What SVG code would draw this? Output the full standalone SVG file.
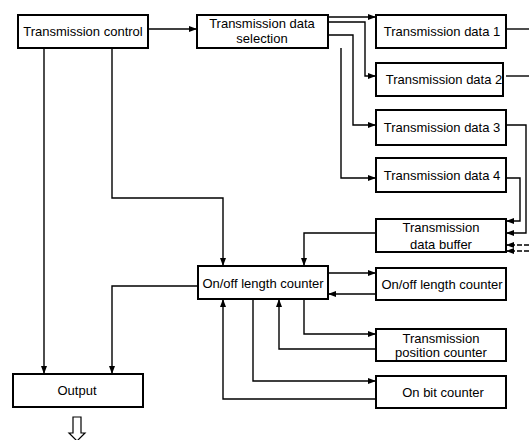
<svg xmlns="http://www.w3.org/2000/svg" width="529" height="440" viewBox="0 0 529 440">
<defs>
<marker id="ah" markerUnits="userSpaceOnUse" markerWidth="9" markerHeight="7" refX="8" refY="3.5" orient="auto">
<path d="M0,0.5 L8,3.5 L0,6.5 z" fill="#000"/>
</marker>
<style>
.box{fill:#fff;stroke:#000;stroke-width:2}
.t{font-family:"Liberation Sans",Arial,sans-serif;font-size:13px;fill:#000;text-anchor:middle}
.c{fill:none;stroke:#000;stroke-width:1.4}
.a{marker-end:url(#ah)}
.d{stroke-dasharray:5 2}
</style>
</defs>
<rect width="529" height="440" fill="#fff"/>
<g id="connectors">
<path class="c a" d="M148,29 H197"/>
<path class="c a" d="M328,17 H376"/>
<path class="c a" d="M328,22 H365 V76 H376"/>
<path class="c a" d="M328,35 H353 V125 H376"/>
<path class="c a" d="M341,48 V178 H376"/>
<path class="c" d="M506,29 H529"/>
<path class="c" d="M506,76 H529"/>
<path class="c a" d="M506,125 H526 V233 H506"/>
<path class="c a" d="M506,178 H520 V221 H506"/>
<path class="c a d" d="M529,245 H506"/>
<path class="c a d" d="M529,251 H506"/>
<path class="c a" d="M376,233 H304 V266"/>
<path class="c a" d="M112,48 V198 H223 V266"/>
<path class="c a" d="M44,48 V374"/>
<path class="c a" d="M198,286 H112 V374"/>
<path class="c a" d="M328,273 H376"/>
<path class="c a" d="M376,294 H328"/>
<path class="c a" d="M304,299 V334 H376"/>
<path class="c a" d="M376,349 H279 V299"/>
<path class="c a" d="M253,299 V381 H376"/>
<path class="c a" d="M376,399 H223 V299"/>
<path d="M73,417 H81 V433 H85 L77,441 L69,433 H73 Z" fill="#fff" stroke="#000" stroke-width="1.2"/>
</g>
<g id="transmission-control">
<rect class="box" x="18" y="15" width="130" height="33"/>
<text class="t" x="83" y="36">Transmission control</text>
</g>
<g id="transmission-data-selection">
<rect class="box" x="197" y="15" width="131" height="33"/>
<text class="t" x="262" y="28">Transmission data</text>
<text class="t" x="262" y="43">selection</text>
</g>
<g id="transmission-data-1">
<rect class="box" x="376" y="15" width="130" height="33"/>
<text class="t" x="442" y="36">Transmission data 1</text>
</g>
<g id="transmission-data-2">
<rect class="box" x="376" y="63" width="127" height="33"/>
<text class="t" x="444" y="84">Transmission data 2</text>
</g>
<g id="transmission-data-3">
<rect class="box" x="376" y="110" width="130" height="35"/>
<text class="t" x="442" y="132">Transmission data 3</text>
</g>
<g id="transmission-data-4">
<rect class="box" x="376" y="158" width="130" height="34"/>
<text class="t" x="442" y="180">Transmission data 4</text>
</g>
<g id="transmission-data-buffer">
<rect class="box" x="376" y="219" width="130" height="33"/>
<text class="t" x="441" y="232">Transmission</text>
<text class="t" x="441" y="249">data buffer</text>
</g>
<g id="on-off-length-counter">
<rect class="box" x="198" y="266" width="130" height="33"/>
<text class="t" x="263" y="288">On/off length counter</text>
</g>
<g id="on-off-length-counter-2">
<rect class="box" x="376" y="268" width="130" height="32"/>
<text class="t" x="442" y="289">On/off length counter</text>
</g>
<g id="transmission-position-counter">
<rect class="box" x="376" y="329" width="130" height="32"/>
<text class="t" x="441" y="343">Transmission</text>
<text class="t" x="441" y="357">position counter</text>
</g>
<g id="on-bit-counter">
<rect class="box" x="376" y="376" width="130" height="32"/>
<text class="t" x="443" y="397">On bit counter</text>
</g>
<g id="output">
<rect class="box" x="13" y="374" width="130" height="33"/>
<text class="t" x="77" y="395">Output</text>
</g>
</svg>
